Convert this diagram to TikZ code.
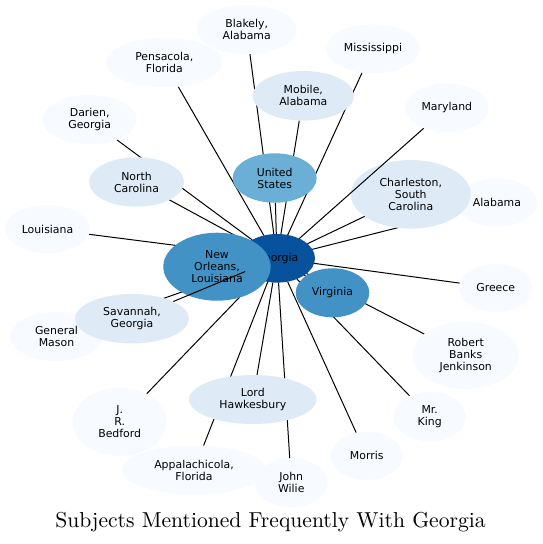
\documentclass[tikz,border=0pt]{standalone}
\usepackage{fontspec}
\newfontfamily\nodefont{DejaVu Sans}
\newfontfamily\titlefont{lmroman10-regular}[Extension=.otf]
\usetikzlibrary{shapes.geometric}
\definecolor{bz}{HTML}{F7FBFF}
\definecolor{ba}{HTML}{DEEBF7}
\definecolor{bd}{HTML}{6BAED6}
\definecolor{be}{HTML}{4292C6}
\definecolor{bg}{HTML}{08519C}
\pgfdeclarelayer{lzero}
\pgfdeclarelayer{lone}
\pgfdeclarelayer{ltwo}
\pgfdeclarelayer{lthree}
\pgfsetlayers{lzero,lone,ltwo,lthree,main}
\tikzset{
  ent/.style={ellipse, inner sep=0pt, outer sep=0pt, align=center,
    font=\nodefont\fontsize{10.9}{12}\selectfont, text=black},
  sz/.style 2 args={minimum width=#1*2pt, minimum height=#2*2pt},
  ed/.style={draw=black, line width=1pt},
}
\begin{document}
\begin{tikzpicture}[x=1pt,y=-1pt]
\useasboundingbox (0,0) rectangle (542,544);
\begin{pgfonlayer}{lzero}
\node[ent, fill=bg, sz={38}{24.3}] (georgia) at (277,258.3) {Georgia};
\end{pgfonlayer}
\begin{pgfonlayer}{ltwo}
\node[ent, fill=be, sz={53.7}{34}] (neworleans) at (217,266.7) {New\\Orleans,\\Louisiana};
\node[ent, fill=bz, sz={40.3}{24.2}] (alabama) at (497,202.5) {Alabama};
\node[ent, fill=bz, sz={46.5}{24.7}] (mason) at (56.5,336.3) {General\\Mason};
\node[ent, fill=ba, sz={60}{34.3}] (charleston) at (410.8,194.3) {Charleston,\\South\\Carolina};
\end{pgfonlayer}
% main layer nodes
\node[ent, fill=bd, sz={42}{24.7}] (us) at (274.7,178) {United\\States};
\node[ent, fill=be, sz={36.8}{24.5}] (virginia) at (332.5,292.8) {Virginia};
\node[ent, fill=ba, sz={50.7}{24.8}] (mobile) at (303.3,95.8) {Mobile,\\Alabama};
\node[ent, fill=ba, sz={47.5}{24.7}] (nc) at (136.5,182) {North\\Carolina};
\node[ent, fill=ba, sz={57}{24.7}] (savannah) at (132,318.7) {Savannah,\\Georgia};
\node[ent, fill=ba, sz={63.8}{24.5}] (hawkesbury) at (252.8,399.5) {Lord\\Hawkesbury};
\node[ent, fill=bz, sz={50}{24.5}] (blakely) at (246.7,29.5) {Blakely,\\Alabama};
\node[ent, fill=bz, sz={47}{24.5}] (mississippi) at (373,48.8) {Mississippi};
\node[ent, fill=bz, sz={58.3}{24.8}] (pensacola) at (164.3,62.5) {Pensacola,\\Florida};
\node[ent, fill=bz, sz={41.5}{24.5}] (maryland) at (446.8,107.8) {Maryland};
\node[ent, fill=bz, sz={47}{24.7}] (darien) at (89.7,119.7) {Darien,\\Georgia};
\node[ent, fill=bz, sz={42.5}{24}] (louisiana) at (47.5,229) {Louisiana};
\node[ent, fill=bz, sz={36.7}{24}] (greece) at (495.7,288) {Greece};
\node[ent, fill=bz, sz={53.3}{33.7}] (jenkinson) at (465.7,355.3) {Robert\\Banks\\Jenkinson};
\node[ent, fill=bz, sz={47}{34.2}] (bedford) at (119.7,421.8) {J.\\R.\\Bedford};
\node[ent, fill=bz, sz={36.3}{25}] (king) at (429.7,416.7) {Mr.\\King};
\node[ent, fill=bz, sz={36}{24.2}] (morris) at (366.7,455.8) {Morris};
\node[ent, fill=bz, sz={72}{24.5}] (appalachicola) at (194,470) {Appalachicola,\\Florida};
\node[ent, fill=bz, sz={36.3}{24.5}] (wilie) at (291.3,482.8) {John\\Wilie};
% edges hidden under nodes
\begin{pgfonlayer}{lone}
\draw[ed] (georgia) -- (neworleans);
\draw[ed] (georgia) -- (us);
\draw[ed] (georgia) -- (virginia);
\draw[ed] (georgia) -- (mobile);
\draw[ed] (georgia) -- (nc);
\draw[ed] (georgia) -- (charleston);
\draw[ed] (georgia) -- (hawkesbury);
\draw[ed] (georgia) -- (blakely);
\draw[ed] (georgia) -- (mississippi);
\draw[ed] (georgia) -- (pensacola);
\draw[ed] (georgia) -- (darien);
\draw[ed] (georgia) -- (alabama);
\draw[ed] (georgia) -- (louisiana);
\draw[ed] (georgia) -- (greece);
\draw[ed] (georgia) -- (mason);
\draw[ed] (georgia) -- (jenkinson);
\draw[ed] (georgia) -- (bedford);
\draw[ed] (georgia) -- (king);
\draw[ed] (georgia) -- (morris);
\draw[ed] (georgia) -- (appalachicola);
\draw[ed] (georgia) -- (wilie);
\end{pgfonlayer}
\begin{pgfonlayer}{lthree}
\draw[ed] (georgia) -- (savannah);
\draw[ed] (georgia) -- (maryland);
\end{pgfonlayer}
\node[font=\titlefont\fontsize{21.6}{25}\selectfont, anchor=base, inner sep=0pt] (title) at (270.5,527.3) {Subjects Mentioned Frequently With Georgia};
\end{tikzpicture}
\end{document}
